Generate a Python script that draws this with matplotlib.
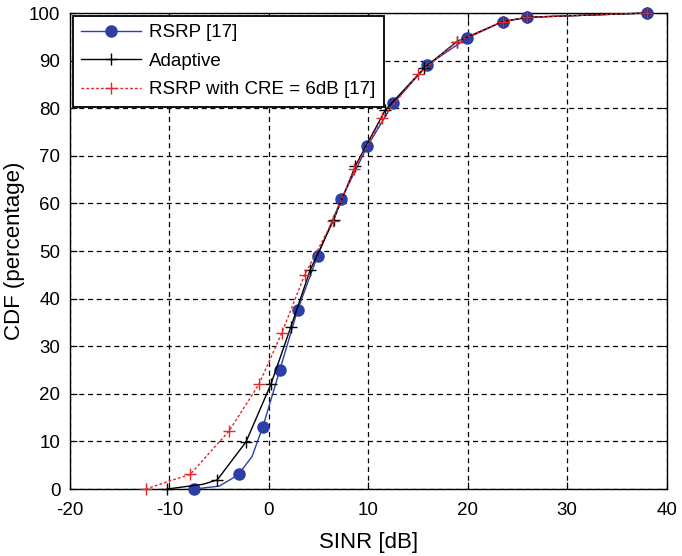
import matplotlib
matplotlib.use("Agg")
import matplotlib.pyplot as plt

plt.rcParams['font.family'] = ['Liberation Sans', 'DejaVu Sans']
plt.rcParams['axes.unicode_minus'] = False

# values (SINR in dB, CDF in percent)
rsrp_x = [-7.5, -5.0, -3.7, -3.05, -1.7, -0.6, 1.1, 2.9, 4.9, 7.3, 9.9, 12.5, 15.9, 19.9, 23.5, 26.0, 38.0]
rsrp_y = [0.0, 0.6, 2.2, 3.1, 6.8, 13.1, 25.0, 37.7, 49.0, 61.0, 72.0, 81.0, 89.0, 94.7, 98.2, 99.1, 100.0]
rsrp_marks = [0, 3, 5, 6, 7, 8, 9, 10, 11, 12, 13, 14, 15, 16]

adapt_x = [-10.2, -6.6, -5.2, -2.3, 0.2, 2.2, 4.15, 6.5, 8.7, 11.7, 15.6, 18.9, 23.5, 26.0, 38.0]
adapt_y = [0.0, 1.0, 1.9, 9.9, 22.0, 34.0, 46.0, 56.5, 67.9, 79.6, 88.4, 94.0, 98.2, 99.1, 100.0]
adapt_marks = [0, 2, 3, 4, 5, 6, 7, 8, 9, 10, 11, 12, 13, 14]

cre_x = [-12.4, -7.9, -4.0, -1.0, 1.3, 3.6, 6.4, 8.6, 11.4, 15.0, 18.9, 23.5, 26.0, 38.0]
cre_y = [0.0, 3.1, 12.2, 22.0, 32.8, 45.0, 56.2, 67.2, 77.9, 87.1, 94.0, 98.2, 99.1, 100.0]

x_ticks = [-20, -10, 0, 10, 20, 30, 40]
y_ticks = [0, 10, 20, 30, 40, 50, 60, 70, 80, 90, 100]

fig = plt.figure(figsize=(6.82, 5.56), dpi=100)
ax = fig.add_axes([0.1026, 0.1205, 0.875, 0.8561])

ax.plot(rsrp_x, rsrp_y, color='#2b3fa6', lw=1.0, marker='o', ms=8,
        markevery=rsrp_marks, label='RSRP [17]', clip_on=False, zorder=3)
ax.plot(adapt_x, adapt_y, color='black', lw=1.0, marker='+', ms=9, mew=1.0,
        markevery=adapt_marks, label='Adaptive', clip_on=False, zorder=4)
ax.plot(cre_x, cre_y, color='#e8262a', lw=1.0, ls=(0, (2, 1.5)), marker='+',
        ms=9, mew=1.0, label='RSRP with CRE = 6dB [17]', clip_on=False, zorder=5)

ax.set_xlim(-20, 40)
ax.set_ylim(0, 100)
ax.set_xticks(x_ticks)
ax.set_yticks(y_ticks)
ax.tick_params(direction='in', top=True, right=True, labelsize=13.5, length=5)
ax.tick_params(axis='x', pad=9)
ax.tick_params(axis='y', pad=7)
ax.grid(True, color='black', ls=(0, (4, 3)), lw=0.9)
for s in ax.spines.values():
    s.set_linewidth(1.0)

ax.set_xlabel('SINR [dB]', fontsize=16, labelpad=10)
ax.set_ylabel('CDF (percentage)', fontsize=16, labelpad=3)

leg = ax.legend(loc='upper left', fontsize=13.5, fancybox=False, framealpha=1,
                edgecolor='black', borderaxespad=0.15, handlelength=3.2,
                handletextpad=0.4, labelspacing=0.6, borderpad=0.45)
leg.get_frame().set_linewidth(1.3)

fig.savefig('out.png', dpi=100)
